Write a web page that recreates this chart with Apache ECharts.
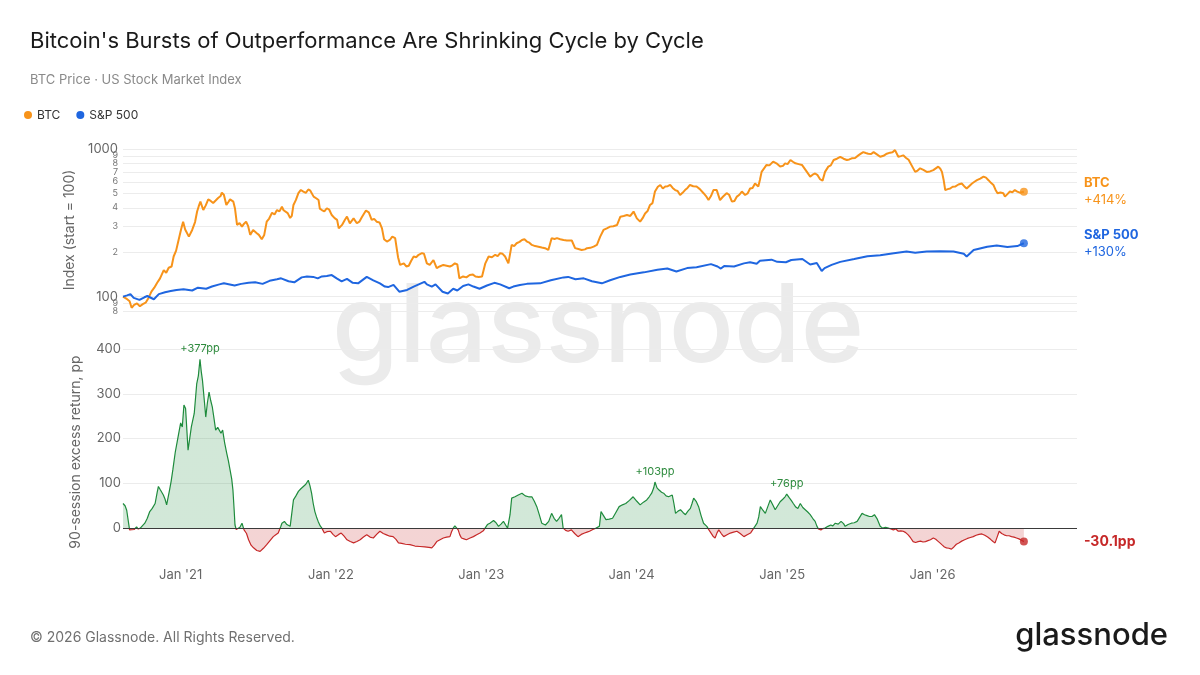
<!DOCTYPE html>
<html>
<head>
<meta charset="utf-8">
<title>Bitcoin vs S&P 500</title>
<script src="https://cdn.jsdelivr.net/npm/echarts@6/dist/echarts.min.js"></script>
<style>
  html, body { margin: 0; padding: 0; background: #fff; }
  #chart { width: 1200px; height: 675px; }
</style>
</head>
<body>
<div id="chart"></div>
<script>
// BTC index (start = 100)
const btcPrice = [
  ['2020-08-14', 100], ['2020-08-22', 97], ['2020-08-30', 93], ['2020-09-04', 84], ['2020-09-10', 88],
  ['2020-09-17', 90], ['2020-09-24', 86], ['2020-10-01', 89], ['2020-10-08', 91], ['2020-10-15', 98],
  ['2020-10-22', 108], ['2020-10-29', 115], ['2020-11-05', 124], ['2020-11-12', 133], ['2020-11-21', 151],
  ['2020-11-27', 145], ['2020-12-03', 157], ['2020-12-10', 160], ['2020-12-15', 187], ['2020-12-21', 205],
  ['2020-12-27', 242], ['2021-01-02', 285], ['2021-01-07', 322], ['2021-01-12', 285], ['2021-01-16', 290],
  ['2021-01-21', 255], ['2021-01-29', 283], ['2021-02-05', 320], ['2021-02-10', 377], ['2021-02-14', 410],
  ['2021-02-18', 440], ['2021-02-25', 386], ['2021-03-03', 415], ['2021-03-09', 456], ['2021-03-15', 445],
  ['2021-03-21', 431], ['2021-03-27', 448], ['2021-04-02', 466], ['2021-04-08', 480], ['2021-04-11', 506],
  ['2021-04-16', 490], ['2021-04-22', 418], ['2021-04-27', 438], ['2021-05-01', 456], ['2021-05-09', 440],
  ['2021-05-13', 395], ['2021-05-18', 306], ['2021-05-24', 315], ['2021-05-30', 298], ['2021-06-04', 312],
  ['2021-06-09', 322], ['2021-06-14', 300], ['2021-06-19', 262], ['2021-06-26', 283], ['2021-07-05', 269],
  ['2021-07-10', 262], ['2021-07-17', 245], ['2021-07-23', 262], ['2021-07-29', 322], ['2021-08-04', 338],
  ['2021-08-11', 370], ['2021-08-17', 360], ['2021-08-23', 386], ['2021-08-29', 378], ['2021-09-04', 406],
  ['2021-09-08', 385], ['2021-09-12', 377], ['2021-09-18', 368], ['2021-09-24', 341], ['2021-09-28', 352],
  ['2021-10-02', 418], ['2021-10-08', 452], ['2021-10-14', 502], ['2021-10-20', 528], ['2021-10-26', 515],
  ['2021-11-01', 505], ['2021-11-07', 532], ['2021-11-12', 522], ['2021-11-20', 476], ['2021-11-27', 462],
  ['2021-12-02', 451], ['2021-12-05', 395], ['2021-12-10', 386], ['2021-12-16', 378], ['2021-12-22', 397],
  ['2021-12-28', 388], ['2022-01-03', 357], ['2022-01-10', 340], ['2022-01-16', 331], ['2022-01-20', 290],
  ['2022-01-28', 306], ['2022-02-04', 332], ['2022-02-09', 348], ['2022-02-16', 314], ['2022-02-25', 339],
  ['2022-03-05', 314], ['2022-03-11', 322], ['2022-03-17', 345], ['2022-03-27', 383], ['2022-04-03', 372],
  ['2022-04-10', 331], ['2022-04-16', 336], ['2022-04-22', 322], ['2022-04-29', 318], ['2022-05-05', 290],
  ['2022-05-10', 245], ['2022-05-17', 236], ['2022-05-24', 242], ['2022-05-30', 255], ['2022-06-06', 249],
  ['2022-06-13', 185], ['2022-06-18', 164], ['2022-06-27', 168], ['2022-07-03', 160], ['2022-07-09', 162],
  ['2022-07-15', 175], ['2022-07-21', 187], ['2022-07-27', 185], ['2022-08-02', 192], ['2022-08-10', 197],
  ['2022-08-15', 195], ['2022-08-22', 168], ['2022-08-29', 164], ['2022-09-07', 177], ['2022-09-15', 156],
  ['2022-09-22', 160], ['2022-10-01', 164], ['2022-10-09', 162], ['2022-10-17', 160], ['2022-10-23', 163],
  ['2022-10-29', 168], ['2022-11-04', 165], ['2022-11-09', 133], ['2022-11-18', 137], ['2022-11-26', 135],
  ['2022-12-04', 140], ['2022-12-12', 141], ['2022-12-18', 137], ['2022-12-26', 136], ['2023-01-03', 137],
  ['2023-01-11', 168], ['2023-01-19', 187], ['2023-01-27', 185], ['2023-02-04', 192], ['2023-02-10', 188],
  ['2023-02-16', 197], ['2023-02-22', 195], ['2023-02-28', 187], ['2023-03-08', 168], ['2023-03-16', 224],
  ['2023-03-22', 220], ['2023-03-28', 230], ['2023-04-04', 235], ['2023-04-10', 242], ['2023-04-16', 245],
  ['2023-04-22', 236], ['2023-04-28', 232], ['2023-05-04', 224], ['2023-05-12', 220], ['2023-05-20', 218],
  ['2023-05-28', 215], ['2023-06-05', 213], ['2023-06-13', 207], ['2023-06-21', 249], ['2023-06-28', 246],
  ['2023-07-04', 249], ['2023-07-12', 245], ['2023-07-20', 242], ['2023-07-28', 240], ['2023-08-09', 240],
  ['2023-08-17', 213], ['2023-08-25', 210], ['2023-09-02', 207], ['2023-09-10', 209], ['2023-09-15', 213],
  ['2023-09-23', 214], ['2023-10-01', 218], ['2023-10-09', 224], ['2023-10-17', 255], ['2023-10-25', 283],
  ['2023-11-02', 290], ['2023-11-10', 298], ['2023-11-18', 300], ['2023-11-27', 306], ['2023-12-05', 348],
  ['2023-12-13', 352], ['2023-12-21', 357], ['2023-12-29', 352], ['2024-01-06', 377], ['2024-01-14', 339],
  ['2024-01-22', 322], ['2024-01-28', 340], ['2024-02-03', 366], ['2024-02-09', 380], ['2024-02-15', 418],
  ['2024-02-21', 430], ['2024-02-27', 515], ['2024-03-05', 555], ['2024-03-11', 571], ['2024-03-17', 540],
  ['2024-03-23', 557], ['2024-03-29', 560], ['2024-04-04', 571], ['2024-04-10', 545], ['2024-04-16', 527],
  ['2024-04-22', 520], ['2024-04-28', 488], ['2024-05-04', 505], ['2024-05-10', 527], ['2024-05-16', 545],
  ['2024-05-22', 571], ['2024-05-30', 560], ['2024-06-07', 557], ['2024-06-15', 535], ['2024-06-24', 502],
  ['2024-06-30', 480], ['2024-07-06', 451], ['2024-07-12', 480], ['2024-07-18', 527], ['2024-07-26', 527],
  ['2024-08-03', 451], ['2024-08-10', 475], ['2024-08-19', 502], ['2024-08-25', 490], ['2024-09-01', 440],
  ['2024-09-07', 445], ['2024-09-13', 476], ['2024-09-19', 490], ['2024-09-25', 515], ['2024-10-03', 488],
  ['2024-10-09', 500], ['2024-10-15', 540], ['2024-10-21', 545], ['2024-10-27', 584], ['2024-11-04', 557],
  ['2024-11-08', 620], ['2024-11-12', 700], ['2024-11-18', 740], ['2024-11-24', 780], ['2024-12-01', 775],
  ['2024-12-10', 822], ['2024-12-18', 800], ['2024-12-27', 760], ['2025-01-03', 770], ['2025-01-08', 800],
  ['2025-01-14', 790], ['2025-01-21', 843], ['2025-01-27', 820], ['2025-02-02', 800], ['2025-02-10', 790],
  ['2025-02-18', 780], ['2025-02-24', 740], ['2025-03-02', 700], ['2025-03-10', 650], ['2025-03-16', 670],
  ['2025-03-22', 683], ['2025-03-28', 665], ['2025-04-03', 624], ['2025-04-09', 610], ['2025-04-15', 700],
  ['2025-04-23', 760], ['2025-04-29', 775], ['2025-05-06', 843], ['2025-05-14', 860], ['2025-05-22', 886],
  ['2025-05-30', 860], ['2025-06-07', 843], ['2025-06-13', 850], ['2025-06-19', 865], ['2025-06-27', 870],
  ['2025-07-05', 906], ['2025-07-11', 930], ['2025-07-17', 953], ['2025-07-23', 940], ['2025-07-29', 930],
  ['2025-08-05', 925], ['2025-08-11', 953], ['2025-08-19', 920], ['2025-08-27', 886], ['2025-09-04', 900],
  ['2025-09-12', 930], ['2025-09-20', 945], ['2025-09-26', 950], ['2025-10-02', 984], ['2025-10-06', 960],
  ['2025-10-10', 886], ['2025-10-16', 895], ['2025-10-22', 906], ['2025-10-29', 870], ['2025-11-04', 845],
  ['2025-11-07', 822], ['2025-11-13', 760], ['2025-11-20', 700], ['2025-11-26', 715], ['2025-12-02', 740],
  ['2025-12-10', 722], ['2025-12-18', 700], ['2025-12-26', 705], ['2026-01-03', 720], ['2026-01-09', 740],
  ['2026-01-15', 760], ['2026-01-20', 735], ['2026-01-24', 700], ['2026-01-28', 620], ['2026-02-01', 527],
  ['2026-02-07', 535], ['2026-02-13', 540], ['2026-02-19', 555], ['2026-02-25', 557], ['2026-03-05', 575],
  ['2026-03-13', 584], ['2026-03-19', 560], ['2026-03-25', 540], ['2026-03-31', 560], ['2026-04-07', 584],
  ['2026-04-13', 600], ['2026-04-19', 615], ['2026-04-27', 630], ['2026-05-05', 650], ['2026-05-11', 640],
  ['2026-05-17', 615], ['2026-05-23', 590], ['2026-05-29', 571], ['2026-06-03', 530], ['2026-06-08', 502],
  ['2026-06-15', 508], ['2026-06-22', 502], ['2026-06-26', 476], ['2026-07-02', 495], ['2026-07-08', 515],
  ['2026-07-14', 510], ['2026-07-20', 527], ['2026-07-26', 515], ['2026-08-01', 506], ['2026-08-06', 510],
  ['2026-08-11', 514]
];

// S&P 500 index (start = 100)
const spxPrice = [
  ['2020-08-14', 100], ['2020-08-24', 102], ['2020-09-01', 104], ['2020-09-09', 98], ['2020-09-23', 95],
  ['2020-10-05', 99], ['2020-10-12', 101], ['2020-10-28', 96], ['2020-11-09', 104], ['2020-11-24', 107],
  ['2020-12-08', 109], ['2020-12-22', 111], ['2021-01-08', 112], ['2021-01-29', 110], ['2021-02-12', 115],
  ['2021-03-04', 113], ['2021-03-18', 117], ['2021-04-05', 121], ['2021-04-16', 123], ['2021-05-12', 119],
  ['2021-05-28', 122], ['2021-06-15', 124], ['2021-07-01', 125], ['2021-07-19', 122], ['2021-08-05', 128],
  ['2021-08-23', 131], ['2021-09-02', 133], ['2021-09-20', 127], ['2021-10-04', 125], ['2021-10-22', 135],
  ['2021-11-04', 137], ['2021-11-19', 136], ['2021-11-30', 133], ['2021-12-10', 137], ['2021-12-22', 138],
  ['2022-01-03', 140], ['2022-01-15', 133], ['2022-01-27', 127], ['2022-02-09', 132], ['2022-02-23', 124],
  ['2022-03-08', 123], ['2022-03-29', 136], ['2022-04-14', 129], ['2022-04-30', 123], ['2022-05-12', 117],
  ['2022-05-20', 116], ['2022-06-02', 120], ['2022-06-16', 108], ['2022-07-05', 111], ['2022-07-21', 117],
  ['2022-08-16', 126], ['2022-08-22', 121], ['2022-09-03', 117], ['2022-09-12', 121], ['2022-09-29', 108],
  ['2022-10-12', 105], ['2022-10-25', 113], ['2022-11-04', 110], ['2022-11-18', 118], ['2022-12-01', 121],
  ['2022-12-13', 117], ['2022-12-28', 113], ['2023-01-15', 119], ['2023-02-02', 124], ['2023-02-16', 121],
  ['2023-03-10', 114], ['2023-03-20', 117], ['2023-04-05', 120], ['2023-04-22', 122], ['2023-05-24', 123],
  ['2023-06-19', 129], ['2023-07-20', 135], ['2023-07-31', 136], ['2023-08-18', 131], ['2023-09-07', 133],
  ['2023-09-27', 127], ['2023-10-21', 123], ['2023-11-10', 129], ['2023-12-05', 136], ['2023-12-29', 141],
  ['2024-01-31', 146], ['2024-03-04', 152], ['2024-03-28', 155], ['2024-04-19', 148], ['2024-05-15', 156],
  ['2024-06-07', 158], ['2024-07-12', 166], ['2024-07-28', 160], ['2024-08-05', 155], ['2024-08-13', 161],
  ['2024-09-06', 160], ['2024-09-30', 168], ['2024-10-15', 171], ['2024-10-31', 167], ['2024-11-08', 175],
  ['2024-12-06', 178], ['2024-12-20', 172], ['2025-01-10', 171], ['2025-01-23', 177], ['2025-02-19', 180],
  ['2025-03-10', 165], ['2025-03-26', 169], ['2025-04-07', 149], ['2025-04-14', 156], ['2025-05-01', 164],
  ['2025-05-22', 172], ['2025-06-25', 180], ['2025-07-27', 188], ['2025-08-27', 191], ['2025-09-29', 197],
  ['2025-10-30', 202], ['2025-11-20', 198], ['2025-12-18', 202], ['2026-01-19', 203], ['2026-02-21', 202],
  ['2026-03-18', 195], ['2026-03-25', 187], ['2026-04-11', 207], ['2026-05-14', 218], ['2026-06-06', 222],
  ['2026-07-02', 217], ['2026-07-26', 220], ['2026-08-11', 230]
];

// 90-session excess return of BTC over S&P 500, percentage points
const excessReturn = [
  ['2020-08-14', 55], ['2020-08-19', 50], ['2020-08-23', 40], ['2020-08-26', 37], ['2020-08-30', -4],
  ['2020-09-03', -7], ['2020-09-10', -3], ['2020-09-16', 3], ['2020-09-20', -2], ['2020-09-25', 0],
  ['2020-10-01', 6], ['2020-10-06', 11], ['2020-10-12', 22], ['2020-10-18', 37], ['2020-10-24', 44],
  ['2020-10-31', 55], ['2020-11-05', 80], ['2020-11-08', 93], ['2020-11-13', 85], ['2020-11-20', 74],
  ['2020-11-24', 65], ['2020-11-28', 52], ['2020-12-05', 85], ['2020-12-09', 105], ['2020-12-13', 130],
  ['2020-12-19', 170], ['2020-12-25', 200], ['2021-01-01', 235], ['2021-01-05', 226], ['2021-01-09', 275],
  ['2021-01-13', 267], ['2021-01-19', 174], ['2021-01-23', 200], ['2021-01-27', 226], ['2021-02-03', 256],
  ['2021-02-09', 322], ['2021-02-13', 340], ['2021-02-17', 377], ['2021-02-20', 350], ['2021-02-23', 330],
  ['2021-02-27', 290], ['2021-03-03', 248], ['2021-03-07', 280], ['2021-03-11', 304], ['2021-03-15', 285],
  ['2021-03-19', 270], ['2021-03-23', 245], ['2021-03-27', 219], ['2021-04-01', 225], ['2021-04-05', 226],
  ['2021-04-09', 212], ['2021-04-13', 219], ['2021-04-18', 190], ['2021-04-23', 167], ['2021-04-27', 150],
  ['2021-05-01', 130], ['2021-05-05', 110], ['2021-05-08', 85], ['2021-05-11', 40], ['2021-05-13', 7],
  ['2021-05-16', -3], ['2021-05-19', -7], ['2021-05-25', 2], ['2021-05-30', 11], ['2021-06-04', -4],
  ['2021-06-10', -12], ['2021-06-15', -26], ['2021-06-21', -38], ['2021-06-27', -44], ['2021-07-05', -50],
  ['2021-07-13', -52], ['2021-07-21', -45], ['2021-07-29', -37], ['2021-08-06', -28], ['2021-08-14', -19],
  ['2021-08-20', -15], ['2021-08-26', -11], ['2021-09-01', 3], ['2021-09-04', 11], ['2021-09-10', 15],
  ['2021-09-16', 8], ['2021-09-24', 4], ['2021-10-02', 63], ['2021-10-08', 72], ['2021-10-14', 82],
  ['2021-10-20', 88], ['2021-10-26', 93], ['2021-11-01', 98], ['2021-11-07', 107], ['2021-11-11', 95],
  ['2021-11-15', 78], ['2021-11-19', 55], ['2021-11-23', 37], ['2021-11-27', 25], ['2021-12-01', 15],
  ['2021-12-06', 5], ['2021-12-10', 0], ['2021-12-16', -11], ['2021-12-22', -8], ['2021-12-31', -7],
  ['2022-01-06', -14], ['2022-01-12', -19], ['2022-01-20', -14], ['2022-01-26', -11], ['2022-02-02', -18],
  ['2022-02-09', -26], ['2022-02-17', -30], ['2022-02-25', -33], ['2022-03-05', -30], ['2022-03-13', -26],
  ['2022-03-21', -20], ['2022-03-29', -15], ['2022-04-06', -20], ['2022-04-14', -22], ['2022-04-22', -14],
  ['2022-04-30', -7], ['2022-05-08', -12], ['2022-05-16', -15], ['2022-05-24', -18], ['2022-06-01', -19],
  ['2022-06-08', -25], ['2022-06-14', -33], ['2022-06-22', -34], ['2022-07-01', -36], ['2022-07-12', -37],
  ['2022-07-24', -40], ['2022-08-05', -41], ['2022-08-17', -42], ['2022-08-27', -43], ['2022-09-03', -44],
  ['2022-09-09', -38], ['2022-09-15', -30], ['2022-09-23', -26], ['2022-10-01', -22], ['2022-10-09', -20],
  ['2022-10-17', -19], ['2022-10-21', -8], ['2022-10-25', 0], ['2022-10-29', 5], ['2022-11-02', 2],
  ['2022-11-06', -4], ['2022-11-10', -15], ['2022-11-14', -22], ['2022-11-20', -24], ['2022-11-26', -26],
  ['2022-12-05', -22], ['2022-12-13', -19], ['2022-12-21', -15], ['2022-12-29', -11], ['2023-01-06', -6],
  ['2023-01-10', -4], ['2023-01-16', 8], ['2023-01-22', 11], ['2023-01-31', 17], ['2023-02-06', 12],
  ['2023-02-12', 4], ['2023-02-18', 9], ['2023-02-24', 15], ['2023-03-02', 6], ['2023-03-06', 0],
  ['2023-03-12', 30], ['2023-03-16', 67], ['2023-03-24', 70], ['2023-04-01', 74], ['2023-04-10', 78],
  ['2023-04-18', 72], ['2023-04-26', 70], ['2023-05-04', 70], ['2023-05-10', 60], ['2023-05-16', 48],
  ['2023-05-22', 30], ['2023-05-28', 11], ['2023-06-06', 7], ['2023-06-14', 15], ['2023-06-21', 33],
  ['2023-06-27', 22], ['2023-07-03', 15], ['2023-07-09', 22], ['2023-07-15', 30], ['2023-07-19', 0],
  ['2023-07-25', -5], ['2023-07-31', -7], ['2023-08-08', -4], ['2023-08-16', -12], ['2023-08-24', -19],
  ['2023-09-01', -14], ['2023-09-09', -11], ['2023-09-15', -9], ['2023-09-21', -7], ['2023-09-29', -3],
  ['2023-10-07', 0], ['2023-10-15', 4], ['2023-10-19', 37], ['2023-10-25', 28], ['2023-10-31', 19],
  ['2023-11-08', 20], ['2023-11-16', 22], ['2023-11-24', 35], ['2023-12-02', 48], ['2023-12-10', 52],
  ['2023-12-18', 55], ['2023-12-27', 62], ['2024-01-05', 70], ['2024-01-14', 60], ['2024-01-22', 52],
  ['2024-01-30', 58], ['2024-02-07', 63], ['2024-02-13', 70], ['2024-02-19', 78], ['2024-02-24', 90],
  ['2024-02-27', 103], ['2024-03-03', 90], ['2024-03-08', 85], ['2024-03-14', 80], ['2024-03-19', 78],
  ['2024-03-25', 72], ['2024-03-31', 70], ['2024-04-09', 74], ['2024-04-13', 55], ['2024-04-17', 33],
  ['2024-04-23', 38], ['2024-04-29', 41], ['2024-05-05', 35], ['2024-05-11', 30], ['2024-05-17', 38],
  ['2024-05-23', 44], ['2024-05-27', 55], ['2024-05-31', 67], ['2024-06-06', 60], ['2024-06-12', 48],
  ['2024-06-18', 28], ['2024-06-24', 11], ['2024-07-02', 4], ['2024-07-07', -4], ['2024-07-11', -7],
  ['2024-07-17', -18], ['2024-07-22', -22], ['2024-07-27', -10], ['2024-07-31', -4], ['2024-08-06', -12],
  ['2024-08-12', -19], ['2024-08-20', -15], ['2024-08-28', -11], ['2024-09-05', -9], ['2024-09-13', -7],
  ['2024-09-21', -12], ['2024-09-30', -19], ['2024-10-08', -15], ['2024-10-16', -11], ['2024-10-24', 0],
  ['2024-11-01', 11], ['2024-11-05', 25], ['2024-11-09', 48], ['2024-11-15', 40], ['2024-11-21', 33],
  ['2024-11-27', 48], ['2024-12-03', 63], ['2024-12-09', 52], ['2024-12-15', 41], ['2024-12-21', 50],
  ['2024-12-27', 59], ['2025-01-03', 65], ['2025-01-08', 70], ['2025-01-12', 76], ['2025-01-18', 68],
  ['2025-01-23', 62], ['2025-01-28', 55], ['2025-02-03', 47], ['2025-02-08', 44], ['2025-02-14', 55],
  ['2025-02-20', 46], ['2025-02-26', 41], ['2025-03-04', 36], ['2025-03-10', 30], ['2025-03-16', 22],
  ['2025-03-22', 15], ['2025-03-26', 5], ['2025-03-30', -2], ['2025-04-05', -4], ['2025-04-10', -1],
  ['2025-04-15', 0], ['2025-04-22', 4], ['2025-04-29', 7], ['2025-05-04', 5], ['2025-05-10', 11],
  ['2025-05-17', 9], ['2025-05-24', 15], ['2025-05-30', 10], ['2025-06-03', 4], ['2025-06-10', 8],
  ['2025-06-18', 11], ['2025-06-25', 12], ['2025-07-02', 15], ['2025-07-08', 24], ['2025-07-14', 33],
  ['2025-07-20', 30], ['2025-07-26', 28], ['2025-08-01', 26], ['2025-08-07', 26], ['2025-08-13', 30],
  ['2025-08-20', 20], ['2025-08-27', 4], ['2025-09-02', 0], ['2025-09-09', 2], ['2025-09-16', 0],
  ['2025-09-22', -2], ['2025-09-28', -4], ['2025-10-04', -2], ['2025-10-10', -7], ['2025-10-16', -6],
  ['2025-10-22', -7], ['2025-10-28', -10], ['2025-11-03', -15], ['2025-11-09', -22], ['2025-11-15', -30],
  ['2025-11-21', -32], ['2025-11-27', -30], ['2025-12-03', -29], ['2025-12-09', -31], ['2025-12-15', -30],
  ['2025-12-21', -28], ['2025-12-27', -26], ['2026-01-03', -22], ['2026-01-09', -25], ['2026-01-14', -29],
  ['2026-01-19', -33], ['2026-01-25', -38], ['2026-01-30', -42], ['2026-02-04', -44], ['2026-02-10', -45],
  ['2026-02-16', -47], ['2026-02-22', -42], ['2026-02-28', -36], ['2026-03-06', -33], ['2026-03-13', -29],
  ['2026-03-20', -26], ['2026-03-27', -23], ['2026-04-03', -21], ['2026-04-10', -19], ['2026-04-17', -16],
  ['2026-04-24', -14], ['2026-05-01', -13], ['2026-05-08', -16], ['2026-05-15', -20], ['2026-05-22', -25],
  ['2026-05-28', -30], ['2026-06-02', -33], ['2026-06-07', -20], ['2026-06-12', -7], ['2026-06-18', -12],
  ['2026-06-24', -15], ['2026-06-30', -17], ['2026-07-06', -17], ['2026-07-12', -19], ['2026-07-18', -20],
  ['2026-07-24', -22], ['2026-07-30', -24], ['2026-08-05', -27], ['2026-08-11', -30.1]
];

// annotated peaks of the excess return
const peakNotes = [['2021-02-17', 377], ['2024-02-27', 103], ['2025-01-12', 76]];

// axis ticks: every log gridline, and the two labels that would collide with 100 / 1000
const logTicks = [80, 90, 100, 200, 300, 400, 500, 600, 700, 800, 900, 1000];
const logCrowded = [90, 900];
const excessTicks = [0, 100, 200, 300, 400];

const xMin = '2020-08-14';
const xMax = '2026-12-18';
const DAY = 24 * 3600 * 1000;

const ORANGE = '#F7931A';
const BLUE = '#1F66E0';
const GREEN = '#1E8B3C';
const RED = '#C62828';
const FONT = 'Inter, "Noto Sans", sans-serif';

const toTime = d => echarts.number.parseDate(d).getTime();
const last = arr => arr[arr.length - 1];

const logLabel = v => {
  const r = Math.round(v);
  if (r === 100 || r === 1000) return '{big|' + r + '}';
  return '{small|' + Math.round(r < 100 ? r / 10 : r / 100) + '}';
};
const logRich = {
  big: { fontSize: 13, lineHeight: 6, color: '#666', fontFamily: FONT },
  small: { fontSize: 9, lineHeight: 6, color: '#777', fontFamily: FONT }
};

const chart = echarts.init(document.getElementById('chart'));

const option = {
  animation: false,
  backgroundColor: '#fff',
  textStyle: { fontFamily: FONT },
  title: [
    {
      text: "Bitcoin's Bursts of Outperformance Are Shrinking Cycle by Cycle",
      left: 30, top: 30, padding: 0,
      textStyle: { fontSize: 22, fontWeight: 'normal', color: '#1a1a1a', fontFamily: FONT }
    },
    {
      text: 'BTC Price · US Stock Market Index',
      left: 30, top: 74, padding: 0,
      textStyle: { fontSize: 13, fontWeight: 'normal', color: '#8a8a8a', fontFamily: FONT }
    }
  ],
  legend: {
    data: ['BTC', 'S&P 500'],
    left: 24, top: 109, padding: 0,
    icon: 'circle', itemWidth: 8, itemHeight: 8, itemGap: 16,
    textStyle: { fontSize: 12, color: '#333', fontFamily: FONT }
  },
  graphic: [
    {
      type: 'text', x: 598, y: 330, z: -10, silent: true,
      style: { text: 'glassnode', font: '500 108px Inter', fill: '#ebebeb', align: 'center', verticalAlign: 'middle' }
    },
    {
      type: 'text', x: 30, y: 638, silent: true,
      style: { text: '© 2026 Glassnode. All Rights Reserved.', font: '14px Inter', fill: '#707070', align: 'left', verticalAlign: 'middle' }
    },
    {
      type: 'text', x: 1168, y: 636, silent: true,
      style: { text: 'glassnode', font: '500 31px Inter', fill: '#1a1a1a', align: 'right', verticalAlign: 'middle' }
    }
  ],
  grid: [
    { left: 123, right: 123, top: 149, height: 162 },
    { left: 123, right: 123, top: 349, height: 206 }
  ],
  xAxis: [
    { type: 'time', gridIndex: 0, min: xMin, max: xMax, show: false },
    {
      type: 'time', gridIndex: 1, min: xMin, max: xMax,
      minInterval: 365 * DAY, maxInterval: 366 * DAY,
      axisLine: { show: false }, axisTick: { show: false }, splitLine: { show: false },
      axisLabel: {
        formatter: v => {
          const d = new Date(v);
          return (d.getMonth() === 0 && d.getDate() === 1) ? "Jan '" + String(d.getFullYear()).slice(2) : '';
        },
        color: '#666', fontSize: 13, margin: 14, fontFamily: FONT
      }
    }
  ],
  yAxis: [
    {
      // bounds nudged a hair outside 80 / 1000 so the end ticks survive float rounding
      type: 'log', logBase: 10, gridIndex: 0, min: 79.9, max: 1000.5,
      name: 'Index (start = 100)', nameLocation: 'middle', nameGap: 46,
      nameTextStyle: { color: '#666', fontSize: 14, fontFamily: FONT },
      axisLine: { show: false },
      axisTick: { show: false, customValues: logTicks },
      splitLine: { lineStyle: { color: '#ececec', width: 1 } },
      axisLabel: {
        customValues: logTicks.filter(v => logCrowded.indexOf(v) < 0), margin: 5,
        showMinLabel: true, showMaxLabel: true, hideOverlap: false,
        formatter: logLabel, rich: logRich
      }
    },
    {
      type: 'value', gridIndex: 1, min: -60, max: 400,
      name: '90-session excess return, pp', nameLocation: 'middle', nameGap: 40,
      nameTextStyle: { color: '#666', fontSize: 14, fontFamily: FONT },
      axisLine: { show: false },
      axisTick: { show: false, customValues: excessTicks },
      splitLine: { lineStyle: { color: '#ececec', width: 1 } },
      axisLabel: { customValues: excessTicks, color: '#666', fontSize: 13, margin: 2, fontFamily: FONT }
    },
    {
      // twin of the log axis that only carries the crowded "9" labels
      type: 'log', logBase: 10, gridIndex: 0, min: 79.9, max: 1000.5, position: 'left',
      axisLine: { show: false }, splitLine: { show: false },
      axisTick: { show: false, customValues: logCrowded },
      axisLabel: {
        customValues: logCrowded, margin: 5,
        showMinLabel: true, showMaxLabel: true,
        formatter: logLabel, rich: logRich
      }
    }
  ],
  visualMap: {
    type: 'piecewise', show: false, seriesIndex: 4, dimension: 1,
    pieces: [
      { gte: -1000, lte: 0, color: RED },
      { gt: 0, lte: 1000, color: GREEN }
    ]
  },
  series: [
    {
      name: 'BTC', type: 'line', xAxisIndex: 0, yAxisIndex: 0,
      data: btcPrice, showSymbol: false, z: 3,
      lineStyle: { color: ORANGE, width: 2 }, itemStyle: { color: ORANGE },
      endLabel: {
        show: true, distance: 60, align: 'left',
        formatter: p => '{b|BTC}\n{v|+' + Math.round(p.value[1] - 100) + '%}',
        rich: {
          b: { fontSize: 13, fontWeight: 'bold', color: ORANGE, lineHeight: 17, fontFamily: FONT },
          v: { fontSize: 13, color: ORANGE, lineHeight: 17, fontFamily: FONT }
        }
      }
    },
    {
      name: 'S&P 500', type: 'line', xAxisIndex: 0, yAxisIndex: 0,
      data: spxPrice, showSymbol: false, z: 3,
      lineStyle: { color: BLUE, width: 2 }, itemStyle: { color: BLUE },
      endLabel: {
        show: true, distance: 60, align: 'left',
        formatter: p => '{b|S&P 500}\n{v|+' + Math.round(p.value[1] - 100) + '%}',
        rich: {
          b: { fontSize: 13, fontWeight: 'bold', color: BLUE, lineHeight: 17, fontFamily: FONT },
          v: { fontSize: 13, color: BLUE, lineHeight: 17, fontFamily: FONT }
        }
      }
    },
    {
      type: 'scatter', xAxisIndex: 0, yAxisIndex: 0, silent: true, z: 4,
      data: [last(btcPrice)], symbolSize: 8, itemStyle: { color: ORANGE }
    },
    {
      type: 'scatter', xAxisIndex: 0, yAxisIndex: 0, silent: true, z: 4,
      data: [last(spxPrice)], symbolSize: 8, itemStyle: { color: BLUE }
    },
    {
      name: 'Excess return', type: 'line', xAxisIndex: 1, yAxisIndex: 1,
      data: excessReturn, showSymbol: false, z: 3,
      lineStyle: { width: 1.2 },
      areaStyle: { opacity: 0.2 },
      markLine: {
        silent: true, symbol: 'none', label: { show: false },
        lineStyle: { color: '#3a3a3a', width: 1, type: 'solid' },
        data: [{ yAxis: 0 }]
      },
      markPoint: {
        silent: true, symbol: 'circle', symbolSize: 0,
        data: peakNotes.map(p => ({ coord: [toTime(p[0]), p[1]], value: p[1] })),
        label: {
          show: true, position: 'top', distance: 5,
          formatter: p => '+' + p.value + 'pp',
          color: '#2E8B3E', fontSize: 11, fontFamily: FONT
        }
      },
      endLabel: {
        show: true, distance: 60, align: 'left',
        formatter: p => p.value[1].toFixed(1) + 'pp',
        color: RED, fontSize: 14, fontWeight: 'bold', fontFamily: FONT
      }
    },
    {
      type: 'scatter', xAxisIndex: 1, yAxisIndex: 1, silent: true, z: 4,
      data: [last(excessReturn)], symbolSize: 8, itemStyle: { color: RED }
    }
  ]
};

chart.setOption(option);
</script>
</body>
</html>
